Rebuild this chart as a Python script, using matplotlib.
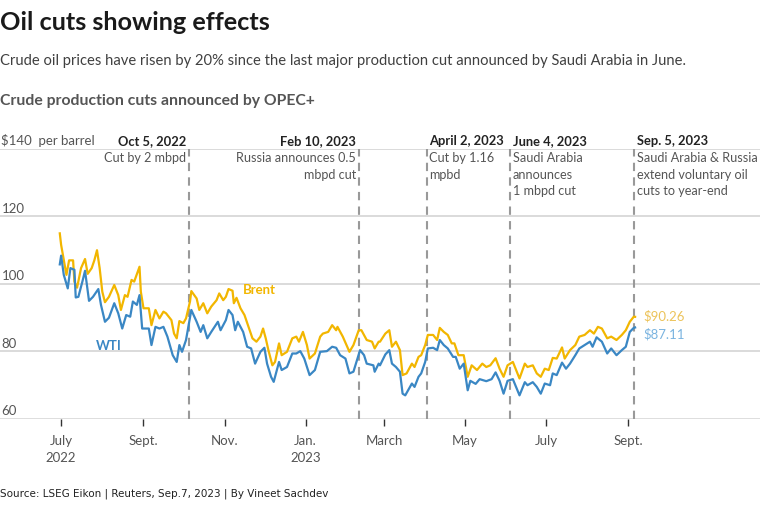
import matplotlib
matplotlib.use("Agg")
import matplotlib.pyplot as plt
import pandas as pd

# Brent crude, $ per barrel
brent_dates = [
    "2022-06-30", "2022-07-01", "2022-07-05", "2022-07-07", "2022-07-10", "2022-07-11",
    "2022-07-13", "2022-07-16", "2022-07-19", "2022-07-21", "2022-07-24", "2022-07-26",
    "2022-07-28", "2022-07-30", "2022-08-01", "2022-08-03", "2022-08-06", "2022-08-10",
    "2022-08-13", "2022-08-15", "2022-08-18", "2022-08-20", "2022-08-23", "2022-08-25",
    "2022-08-29", "2022-08-30", "2022-09-01", "2022-09-05", "2022-09-07", "2022-09-10",
    "2022-09-13", "2022-09-16", "2022-09-18", "2022-09-22", "2022-09-24", "2022-09-26",
    "2022-09-28", "2022-10-01", "2022-10-03", "2022-10-06", "2022-10-07", "2022-10-11",
    "2022-10-13", "2022-10-16", "2022-10-19", "2022-10-22", "2022-10-26", "2022-10-28",
    "2022-10-31", "2022-11-02", "2022-11-04", "2022-11-07", "2022-11-08", "2022-11-10",
    "2022-11-13", "2022-11-16", "2022-11-19", "2022-11-22", "2022-11-25", "2022-11-28",
    "2022-11-30", "2022-12-02", "2022-12-04", "2022-12-07", "2022-12-09", "2022-12-12",
    "2022-12-14", "2022-12-18", "2022-12-22", "2022-12-25", "2022-12-27", "2022-12-30",
    "2023-01-02", "2023-01-04", "2023-01-08", "2023-01-12", "2023-01-14", "2023-01-18",
    "2023-01-21", "2023-01-24", "2023-01-25", "2023-01-29", "2023-02-03", "2023-02-06",
    "2023-02-10", "2023-02-12", "2023-02-16", "2023-02-20", "2023-02-22", "2023-02-25",
    "2023-02-26", "2023-03-02", "2023-03-05", "2023-03-07", "2023-03-10", "2023-03-13",
    "2023-03-15", "2023-03-18", "2023-03-22", "2023-03-24", "2023-03-27", "2023-03-29",
    "2023-04-01", "2023-04-03", "2023-04-07", "2023-04-10", "2023-04-12", "2023-04-15",
    "2023-04-18", "2023-04-21", "2023-04-23", "2023-04-26", "2023-04-30", "2023-05-03",
    "2023-05-06", "2023-05-10", "2023-05-14", "2023-05-17", "2023-05-20", "2023-05-24",
    "2023-05-27", "2023-05-30", "2023-06-02", "2023-06-06", "2023-06-11", "2023-06-15",
    "2023-06-17", "2023-06-21", "2023-06-24", "2023-06-27", "2023-06-30", "2023-07-03",
    "2023-07-06", "2023-07-09", "2023-07-13", "2023-07-15", "2023-07-19", "2023-07-23",
    "2023-07-26", "2023-07-30", "2023-08-03", "2023-08-06", "2023-08-09", "2023-08-12",
    "2023-08-16", "2023-08-19", "2023-08-23", "2023-08-27", "2023-08-30", "2023-09-02",
    "2023-09-05", "2023-09-06",
]
brent_values = [
    115.0, 111.6, 102.7, 107.0, 107.0, 100.7,
    98.9, 104.7, 107.4, 103.0, 104.7, 107.0,
    110.0, 104.7, 97.7, 94.6, 96.2, 99.7,
    96.7, 92.3, 96.7, 96.2, 101.2, 100.7,
    105.1, 97.7, 92.8, 92.8, 87.8, 92.3,
    89.8, 91.8, 91.3, 89.3, 85.3, 83.9,
    89.0, 88.4, 89.8, 94.8, 97.9, 95.7,
    92.3, 94.3, 91.3, 93.3, 95.2, 97.2,
    95.2, 96.2, 98.5, 98.0, 94.3, 95.9,
    92.8, 90.8, 87.3, 83.9, 82.9, 84.4,
    86.8, 83.9, 80.4, 75.9, 76.9, 82.4,
    78.9, 79.9, 83.9, 84.4, 82.9, 85.8,
    81.9, 77.9, 79.4, 84.4, 85.3, 85.8,
    87.8, 86.3, 87.3, 84.4, 79.9, 81.9,
    86.3, 86.3, 83.4, 82.9, 80.9, 82.9,
    82.9, 85.3, 86.3, 81.4, 82.9, 80.4,
    73.0, 73.5, 76.4, 75.4, 78.4, 78.9,
    81.9, 84.9, 84.9, 83.4, 87.0, 85.8,
    84.9, 82.4, 82.4, 78.9, 78.9, 72.5,
    75.9, 74.5, 76.4, 75.4, 75.9, 78.0,
    74.9, 72.5, 75.9, 76.9, 72.0, 76.4,
    75.4, 75.9, 73.5, 72.5, 74.9, 74.5,
    78.1, 77.9, 81.2, 77.9, 80.4, 81.9,
    84.4, 84.9, 86.3, 85.3, 87.3, 86.8,
    83.9, 84.4, 83.4, 84.9, 86.3, 88.8,
    90.3, 90.26,
]

# WTI crude, $ per barrel
wti_dates = [
    "2022-06-30", "2022-07-01", "2022-07-03", "2022-07-06", "2022-07-08", "2022-07-11",
    "2022-07-12", "2022-07-14", "2022-07-17", "2022-07-19", "2022-07-22", "2022-07-25",
    "2022-07-29", "2022-07-31", "2022-08-03", "2022-08-06", "2022-08-10", "2022-08-13",
    "2022-08-16", "2022-08-19", "2022-08-22", "2022-08-24", "2022-08-27", "2022-08-29",
    "2022-08-31", "2022-09-05", "2022-09-07", "2022-09-10", "2022-09-13", "2022-09-16",
    "2022-09-19", "2022-09-23", "2022-09-26", "2022-09-28", "2022-09-30", "2022-10-03",
    "2022-10-07", "2022-10-11", "2022-10-14", "2022-10-16", "2022-10-19", "2022-10-22",
    "2022-10-27", "2022-10-29", "2022-11-02", "2022-11-04", "2022-11-07", "2022-11-09",
    "2022-11-11", "2022-11-15", "2022-11-18", "2022-11-21", "2022-11-24", "2022-11-28",
    "2022-12-01", "2022-12-03", "2022-12-06", "2022-12-08", "2022-12-12", "2022-12-14",
    "2022-12-18", "2022-12-22", "2022-12-25", "2022-12-28", "2022-12-31", "2023-01-04",
    "2023-01-08", "2023-01-12", "2023-01-17", "2023-01-21", "2023-01-24", "2023-01-27",
    "2023-01-31", "2023-02-03", "2023-02-06", "2023-02-11", "2023-02-14", "2023-02-16",
    "2023-02-21", "2023-02-22", "2023-02-25", "2023-02-26", "2023-03-02", "2023-03-05",
    "2023-03-07", "2023-03-10", "2023-03-13", "2023-03-15", "2023-03-17", "2023-03-22",
    "2023-03-24", "2023-03-27", "2023-03-29", "2023-04-01", "2023-04-03", "2023-04-07",
    "2023-04-10", "2023-04-12", "2023-04-15", "2023-04-18", "2023-04-22", "2023-04-24",
    "2023-04-27", "2023-04-30", "2023-05-03", "2023-05-05", "2023-05-09", "2023-05-12",
    "2023-05-17", "2023-05-21", "2023-05-24", "2023-05-27", "2023-05-30", "2023-06-02",
    "2023-06-06", "2023-06-11", "2023-06-15", "2023-06-17", "2023-06-21", "2023-06-24",
    "2023-06-27", "2023-06-30", "2023-07-04", "2023-07-06", "2023-07-09", "2023-07-13",
    "2023-07-16", "2023-07-19", "2023-07-23", "2023-07-26", "2023-07-30", "2023-08-03",
    "2023-08-05", "2023-08-08", "2023-08-12", "2023-08-16", "2023-08-19", "2023-08-23",
    "2023-08-27", "2023-08-30", "2023-09-02", "2023-09-05", "2023-09-06",
]
wti_values = [
    105.8, 108.4, 102.7, 98.7, 104.7, 104.2,
    96.0, 96.2, 100.7, 103.9, 95.0, 96.2,
    98.5, 93.8, 88.8, 90.0, 94.3, 91.3,
    86.8, 90.8, 90.3, 94.8, 93.8, 96.7,
    86.8, 86.8, 81.9, 87.3, 86.8, 87.3,
    84.4, 78.9, 76.9, 81.9, 79.9, 83.4,
    92.3, 88.8, 85.8, 87.8, 83.9, 85.8,
    88.8, 86.3, 89.3, 92.3, 90.8, 86.3,
    88.8, 85.8, 81.4, 80.9, 76.4, 79.9,
    81.1, 76.4, 72.5, 71.0, 76.9, 74.5,
    75.4, 79.4, 79.4, 80.1, 77.9, 73.0,
    74.5, 79.9, 80.1, 81.4, 81.1, 78.9,
    77.9, 73.5, 74.0, 80.4, 78.9, 76.4,
    75.9, 74.0, 76.4, 75.9, 79.1, 80.4,
    76.4, 75.4, 74.0, 67.5, 67.0, 70.5,
    69.5, 72.5, 73.5, 76.9, 80.9, 81.1,
    80.4, 83.4, 81.9, 80.9, 78.4, 78.4,
    74.9, 76.4, 68.5, 71.3, 70.4, 71.8,
    71.2, 71.8, 73.8, 71.3, 67.5, 71.3,
    71.8, 67.0, 70.9, 70.0, 70.9, 69.5,
    67.5, 70.5, 70.0, 73.5, 73.0, 76.7,
    74.9, 76.4, 78.9, 80.9, 81.9, 82.9,
    81.4, 84.2, 82.9, 79.4, 80.9, 78.9,
    80.4, 81.4, 85.8, 87.0, 87.11,
]

cut_dates = ["2022-10-05", "2023-02-10", "2023-04-02", "2023-06-04", "2023-09-05"]
cut_titles = ["Oct 5, 2022", "Feb 10, 2023", "April 2, 2023", "June 4, 2023", "Sep. 5, 2023"]
cut_notes = [
    "Cut by 2 mbpd",
    "Russia announces 0.5\nmbpd cut",
    "Cut by 1.16\nmpbd",
    "Saudi Arabia\nannounces\n1 mbpd cut",
    "Saudi Arabia & Russia\nextend voluntary oil\ncuts to year-end",
]
cut_align = ["right", "right", "left", "left", "left"]

tick_dates = ["2022-07-01", "2022-09-01", "2022-11-01", "2023-01-01",
              "2023-03-01", "2023-05-01", "2023-07-01", "2023-09-01"]
tick_labels = ["July\n2022", "Sept.", "Nov.", "Jan.\n2023", "March", "May", "July", "Sept."]
y_ticks = [60, 80, 100, 120, 140]

BRENT = "#f2b600"
WTI = "#3a87c4"
plt.rcParams["font.family"] = ["Lato", "DejaVu Sans"]

brent_x = pd.to_datetime(brent_dates)
wti_x = pd.to_datetime(wti_dates)

fig = plt.figure(figsize=(7.6, 5.06), dpi=100)
ax = fig.add_axes([0.0, 0.170, 1.0, 0.5336])

ax.set_xlim(pd.Timestamp("2022-05-16"), pd.Timestamp("2023-12-09"))
ax.set_ylim(60, 140)
for s in ax.spines.values():
    s.set_visible(False)

# gridlines, with their labels sitting just above
for v in y_ticks:
    ax.axhline(v, color="#d4d4d4", lw=1.2 if v > 60 else 1.8, zorder=0)
    lab = "$140  per barrel" if v == 140 else str(v)
    ax.annotate(lab, xy=(0, v), xycoords=ax.get_yaxis_transform(),
                xytext=(1, 2), textcoords="offset points",
                ha="left", va="bottom", fontsize=9.5, color="#555555")
ax.set_yticks([])

ax.set_xticks(pd.to_datetime(tick_dates))
ax.set_xticklabels(tick_labels, fontsize=9.5, color="#555555", linespacing=1.5)
ax.tick_params(axis="x", length=5, width=1, color="#333333", pad=6)

ax.plot(brent_x, brent_values, color=BRENT, lw=1.6, zorder=3)
ax.plot(wti_x, wti_values, color=WTI, lw=1.6, zorder=3)

# production cut markers
for d, t, n, a in zip(cut_dates, cut_titles, cut_notes, cut_align):
    dx = pd.Timestamp(d)
    ax.axvline(dx, color="#999999", lw=1.5, ls=(0, (4, 3)), zorder=2)
    off = -2 if a == "right" else 2
    ax.annotate(t, xy=(dx, 140), xytext=(off, 2), textcoords="offset points",
                ha=a, va="bottom", fontsize=9.3, fontweight="bold", color="#222222",
                annotation_clip=False)
    ax.annotate(n, xy=(dx, 140), xytext=(off, -1.5), textcoords="offset points",
                ha=a, va="top", fontsize=9.1, color="#555555", linespacing=1.45,
                annotation_clip=False)

# series labels
ax.annotate("Brent", xy=(pd.Timestamp("2022-11-15"), 98.5), ha="left", va="center",
            fontsize=9.5, fontweight="bold", color=BRENT)
ax.annotate("WTI", xy=(pd.Timestamp("2022-07-27"), 82.0), ha="left", va="center",
            fontsize=9.5, fontweight="bold", color=WTI)
ax.annotate("$%.2f" % brent_values[-1], xy=(brent_x[-1], brent_values[-1]),
            xytext=(6, 1), textcoords="offset points", ha="left", va="center",
            fontsize=9.5, color="#ecc35a")
ax.annotate("$%.2f" % wti_values[-1], xy=(wti_x[-1], wti_values[-1]),
            xytext=(6, -4), textcoords="offset points", ha="left", va="center",
            fontsize=9.5, color="#7bb4e0")

fig.text(0.0, 1 - 22 / 506, "Oil cuts showing effects", fontsize=18.2, fontweight="bold",
         color="#1a1a1a", ha="left", va="center")
fig.text(0.0, 1 - 61 / 506, "Crude oil prices have risen by 20% since the last major production "
         "cut announced by Saudi Arabia in June.", fontsize=10.65, color="#404040",
         ha="left", va="center")
fig.text(0.0, 1 - 101 / 506, "Crude production cuts announced by OPEC+", fontsize=11.3,
         fontweight="bold", color="#555555", ha="left", va="center")
fig.text(0.0, 1 - 494 / 506, "Source: LSEG Eikon | Reuters, Sep.7, 2023 | By Vineet Sachdev",
         fontsize=7.5, color="#222222", ha="left", va="center",
         family=["Liberation Sans Narrow", "DejaVu Sans"])

fig.savefig("out.png", dpi=100)
